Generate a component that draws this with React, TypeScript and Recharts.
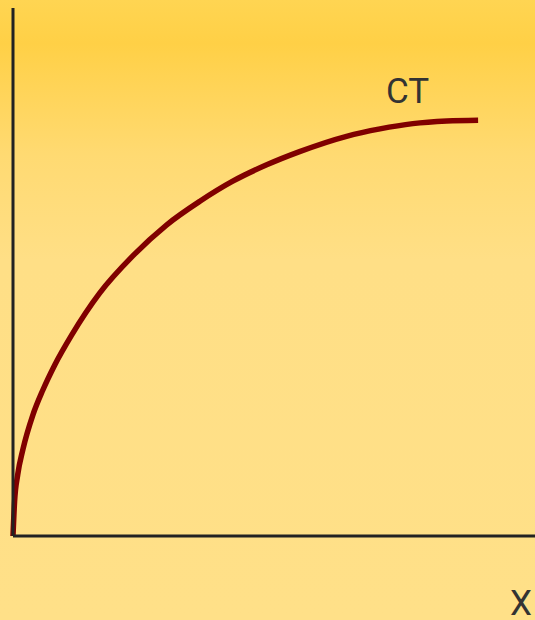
import React from 'react'
import { LineChart, Line, XAxis, YAxis } from 'recharts'

// output level along the CT curve
const xValues = [0, 0.3, 0.9, 1.9, 3.8, 5.7, 8.0, 11.2, 16.6, 22.9, 29.4, 35.8, 42.1, 48.6, 54.9, 63.9, 70.3, 76.6, 83.1, 89.1]
const ctValues = [0, 6.5, 11.6, 16.4, 22.9, 27.6, 32.4, 38.0, 46.0, 53.0, 58.9, 63.4, 67.2, 70.3, 72.8, 75.7, 77.1, 78.1, 78.6, 78.75]

const curveLabel = 'CT'
const axisLabel = 'X'

const data = xValues.map((x, i) => ({ x, ct: ctValues[i] }))

export default function App() {
    return (
        <div
            style={{
                position: 'absolute',
                left: 0,
                top: 0,
                width: 535,
                height: 620,
                background: 'linear-gradient(to bottom, #FFD552 0%, #FFD046 7%, #FFDA72 25%, #FFDF86 42%, #FFE088 100%)',
                fontFamily: 'Roboto, sans-serif',
            }}
        >
            <LineChart width={535} height={620} data={data} margin={{ top: 8, right: 0, left: 12, bottom: 83 }}>
                <XAxis
                    type="number"
                    dataKey="x"
                    domain={[0, 100]}
                    tick={false}
                    tickLine={false}
                    height={1}
                    axisLine={{ stroke: '#222', strokeWidth: 3 }}
                />
                <YAxis
                    type="number"
                    domain={[0, 100]}
                    tick={false}
                    tickLine={false}
                    width={1}
                    axisLine={{ stroke: '#222', strokeWidth: 3 }}
                />
                <Line
                    type="monotone"
                    dataKey="ct"
                    stroke="#800000"
                    strokeWidth={5.5}
                    dot={false}
                    isAnimationActive={false}
                />
            </LineChart>
            <svg width={535} height={620} style={{ position: 'absolute', left: 0, top: 0, pointerEvents: 'none' }}>
                <text x={386} y={103} fontSize={35} fill="#333" fontFamily="Roboto, sans-serif">{curveLabel}</text>
                <text x={510} y={615} fontSize={35} fill="#333" fontFamily="Roboto, sans-serif">{axisLabel}</text>
            </svg>
        </div>
    )
}
